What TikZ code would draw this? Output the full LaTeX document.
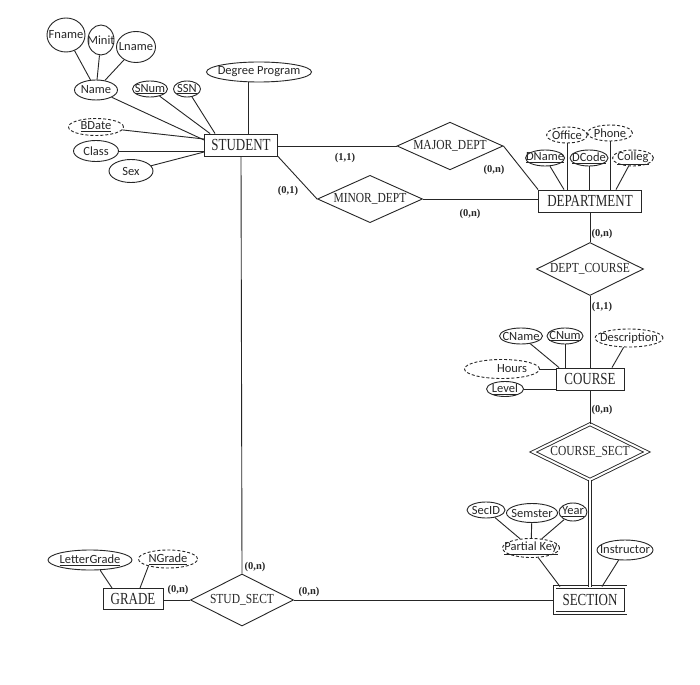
\documentclass[tikz,border=0pt]{standalone}
\usepackage{fontspec}
\usepackage{graphicx}
\usetikzlibrary{shapes.geometric}
\newfontfamily\serf{Liberation Serif}
\newfontfamily\calib{Carlito}
\newcommand\atxt[1]{\makebox[0pt]{#1}}
\newcommand\etxt[1]{\scalebox{1}[1.3]{#1}}
\newcommand\rtxt[1]{\scalebox{1}[1.2]{#1}}
\begin{document}
\begin{tikzpicture}[x=1pt,y=-1pt,line width=0.9pt,color=black!85,
  ent/.style={draw, rectangle, inner sep=0pt, font=\serf\fontsize{13}{13}\selectfont},
  rel/.style={draw, diamond, shape aspect=2, inner sep=0pt, font=\serf\fontsize{11.5}{11.5}\selectfont},
  attr/.style={draw, ellipse, inner xsep=0pt, inner ysep=-3pt, font=\calib\fontsize{12.5}{12.5}\selectfont},
  dattr/.style={attr, dash pattern=on 3pt off 2pt},
  card/.style={inner sep=0pt, font=\serf\bfseries\fontsize{10.5}{10.5}\selectfont},
  dbl/.style={double, double distance=2pt}]
\useasboundingbox[fill=white] (0,0) rectangle (700,684);

% ---------- STUDENT ----------
\node[ent, minimum width=73pt, minimum height=22pt] (STUDENT) at (241,145) {\etxt{STUDENT}};
\node[attr, minimum width=38pt, minimum height=34pt] (Fname) at (66,35) {\atxt{Fname}};
\node[attr, minimum width=26pt, minimum height=30pt] (Minit) at (101,40) {\atxt{Minit}};
\node[attr, minimum width=39pt, minimum height=31pt] (Lname) at (136,47) {\atxt{Lname}};
\node[attr, minimum width=43pt, minimum height=20pt] (Name) at (96,90) {\atxt{Name}};
\node[attr, minimum width=35pt, minimum height=16pt] (SNum) at (150,89) {\atxt{\underline{SNum}}};
\node[attr, minimum width=27pt, minimum height=16pt] (SSN) at (187,89) {\atxt{\underline{SSN}}};
\node[attr, minimum width=105pt, minimum height=20pt] (DegProg) at (259,72) {\atxt{Degree Program}};
\node[dattr, minimum width=55pt, minimum height=17pt] (BDate) at (96,127) {\atxt{\underline{BDate}}};
\node[attr, minimum width=45pt, minimum height=21pt] (Class) at (96,151) {\atxt{Class}};
\node[attr, minimum width=44pt, minimum height=23pt] (Sex) at (131,171) {\atxt{Sex}};

\draw (Fname) -- (Name);
\draw (Minit) -- (Name);
\draw (Lname) -- (Name);
\draw (Name) -- ([yshift=5pt]STUDENT.west);
\draw (SNum) -- ([xshift=6pt]STUDENT.north west);
\draw (SSN) -- ([xshift=11pt]STUDENT.north west);
\draw ([xshift=-11pt]DegProg.south) -- ([xshift=7pt]STUDENT.north);
\draw (BDate) -- ([yshift=6pt]STUDENT.west);
\draw (Class.east) -- (Class.east -| STUDENT.west);
\draw (Sex) -- ([yshift=-7pt]STUDENT.west);

% ---------- relationships to DEPARTMENT ----------
\node[rel, minimum width=106pt, minimum height=47pt] (MAJOR) at (450,146) {\rtxt{MAJOR\_DEPT}};
\node[rel, minimum width=105pt, minimum height=47pt] (MINOR) at (370,199) {\rtxt{MINOR\_DEPT}};
\node[ent, minimum width=103pt, minimum height=22pt] (DEPT) at (590,201) {\etxt{DEPARTMENT}};

\draw (MAJOR.west -| STUDENT.east) -- (MAJOR.west);
\draw (STUDENT.south east) -- (MINOR.west);
\draw (MAJOR.east) -- (DEPT.north west);
\draw (MINOR.east) -- (MINOR.east -| DEPT.west);

\node[card] (c1) at (345,158) {(1,1)};
\node[card] (c2) at (494,170) {(0,n)};
\node[card] (c3) at (288,191) {(0,1)};
\node[card] (c4) at (470,214) {(0,n)};

% ---------- DEPARTMENT attributes ----------
\node[dattr, minimum width=41pt, minimum height=16pt] (Office) at (567,135) {\atxt{Office}};
\node[dattr, minimum width=45pt, minimum height=16pt] (Phone) at (610,133) {\atxt{Phone}};
\node[attr, minimum width=39pt, minimum height=16pt] (DName) at (545,158) {\atxt{\underline{DName}}};
\node[attr, minimum width=38pt, minimum height=16pt] (DCode) at (589,158) {\atxt{\underline{DCode}}};
\node[dattr, minimum width=41pt, minimum height=16pt] (Colleg) at (633,158) {\atxt{\underline{Colleg}}};

\draw (DName) -- ([xshift=-26pt]DEPT.north);
\draw (Office.south) -- (Office.south |- DEPT.north);
\draw (DCode.south) -- (DCode.south |- DEPT.north);
\draw (Phone.south) -- (Phone.south |- DEPT.north);
\draw (Colleg) -- ([xshift=26pt]DEPT.north);

% ---------- DEPT_COURSE / COURSE ----------
\node[rel, minimum width=107pt, minimum height=53pt] (DC) at (590,269) {\rtxt{DEPT\_COURSE}};
\node[ent, minimum width=68pt, minimum height=22pt] (COURSE) at (590,379) {\etxt{COURSE}};
\draw (DEPT.south) -- (DC.north);
\draw (DC.south) -- (COURSE.north);
\node[card] (c5) at (602,234) {(0,n)};
\node[card] (c6) at (602,307) {(1,1)};

\node[attr, minimum width=43pt, minimum height=16pt] (CName) at (521,336) {\atxt{CName}};
\node[attr, minimum width=36pt, minimum height=16pt] (CNum) at (565,336) {\atxt{\underline{CNum}}};
\node[dattr, minimum width=68pt, minimum height=18pt] (Desc) at (629,338) {\atxt{Description}};
\node[dattr, minimum width=75pt, minimum height=19pt] (Hours) at (502,369) {\atxt{\hspace{20pt}Hours}};
\node[attr, minimum width=37pt, minimum height=15pt] (Level) at (505,389) {\atxt{\underline{Level}}};

\draw (CName) -- ([xshift=-31pt]COURSE.north);
\draw (CNum.south) -- (CNum.south |- COURSE.north);
\draw (Desc) -- ([xshift=22pt]COURSE.north);
\draw (Hours.east) -- (Hours.east -| COURSE.west);
\draw (Level.east) -- (Level.east -| COURSE.west);

% ---------- COURSE_SECT / SECTION ----------
\node[rel, dbl, minimum width=114pt, minimum height=56pt] (CS) at (590,452) {\rtxt{COURSE\_SECT}};
\node[ent, dbl, minimum width=71pt, minimum height=26pt] (SECTION) at (590,600) {\etxt{SECTION}};
\draw (COURSE.south) -- (CS.north);
\draw[dbl] (CS.south) -- (SECTION.north);
\node[card] (c7) at (602,410) {(0,n)};

\node[attr, minimum width=38pt, minimum height=16pt] (SecID) at (486,510) {\atxt{SecID}};
\node[attr, minimum width=51pt, minimum height=19pt] (Semster) at (532,513) {\atxt{Semster}};
\node[attr, minimum width=28pt, minimum height=18pt] (Year) at (573,512) {\atxt{\underline{Year}}};
\node[dattr, minimum width=57pt, minimum height=19pt] (PK) at (531,548) {\atxt{\underline{Partial Key}}};
\node[attr, minimum width=56pt, minimum height=20pt] (Instr) at (625,550) {\atxt{Instructor}};

\draw (SecID) -- (PK);
\draw (Semster) -- (PK);
\draw (Year) -- (PK);
\draw (PK) -- ([xshift=-30pt]SECTION.north);
\draw (Instr) -- ([xshift=12pt]SECTION.north);

% ---------- STUD_SECT / GRADE ----------
\node[rel, minimum width=103pt, minimum height=52pt] (SS) at (242,600) {\rtxt{STUD\_SECT}};
\node[ent, minimum width=60pt, minimum height=21pt] (GRADE) at (133,599) {\etxt{GRADE}};
\node[attr, minimum width=84pt, minimum height=20pt] (LG) at (90,560) {\atxt{\underline{LetterGrade}}};
\node[dattr, minimum width=59pt, minimum height=18pt] (NG) at (168,559) {\atxt{\underline{NGrade}}};

\draw (STUDENT.south) -- (SS.north);
\draw (SS.east) -- (SECTION.west);
\draw (SS.west -| GRADE.east) -- (SS.west);
\draw (LG.315) -- ([xshift=-21pt]GRADE.north);
\draw (NG.200) -- ([xshift=7pt]GRADE.north);

\node[card] (c8) at (255,567) {(0,n)};
\node[card] (c9) at (178,590) {(0,n)};
\node[card] (c10) at (309,592) {(0,n)};
\end{tikzpicture}
\end{document}
